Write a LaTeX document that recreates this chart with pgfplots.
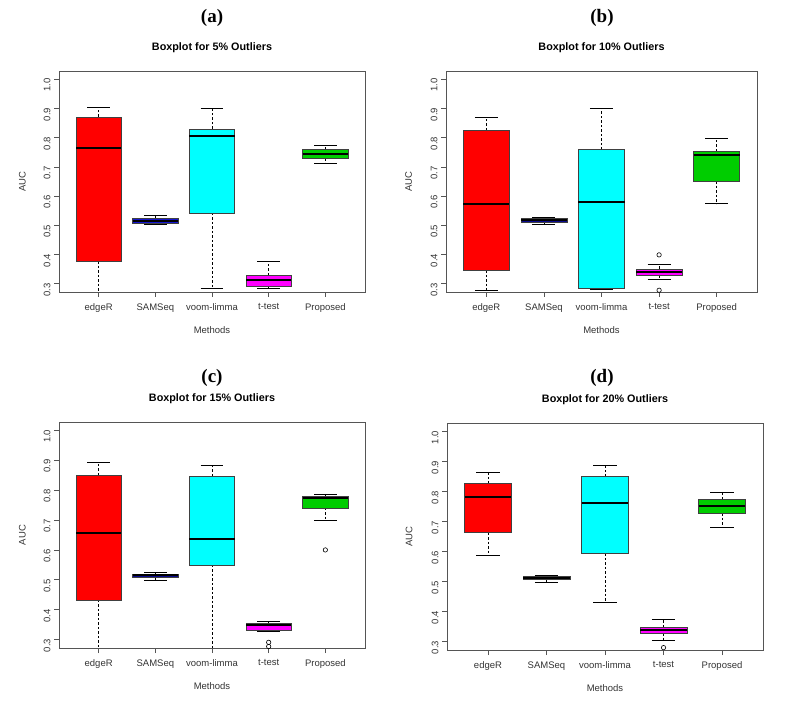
\documentclass[border=0pt]{standalone}
\usepackage{pgfplots}
\pgfplotsset{compat=1.18}
\usepgfplotslibrary{statistics}
\usepackage{fontspec}
\setmainfont{Liberation Sans}
\newfontfamily\serifb{Liberation Serif}
\definecolor{rred}{HTML}{FF0000}
\definecolor{sblueA}{HTML}{1515D0}
\definecolor{snavy}{HTML}{0A0A90}
\definecolor{rcyan}{HTML}{00FFFF}
\definecolor{rmagenta}{HTML}{FF00FF}
\definecolor{rgreen}{HTML}{00CD00}
\definecolor{axgray}{HTML}{555555}
\pgfplotsset{
  myax/.style={
    scale only axis,
    xmin=0.3, xmax=5.7, ymin=0.272, ymax=1.028,
    xtick={1,2,3,4,5},
    xticklabels={edgeR,SAMSeq,voom-limma,t-test,Proposed},
    ytick={0.3,0.4,0.5,0.6,0.7,0.8,0.9,1.0},
    /pgf/number format/assume math mode=true,
    yticklabel style={/pgf/number format/.cd, fixed, fixed zerofill, precision=1, /tikz/.cd, rotate=90, anchor=south, xshift=-6pt, font=\fontsize{9.5}{11}\selectfont, text=black!80},
    xticklabel style={font=\fontsize{9.5}{11}\selectfont, text=black!80, yshift=-3pt},
    tick align=outside, xtick pos=bottom, ytick pos=left,
    major tick length=5pt,
    tick style={draw=axgray, line width=0.7pt},
    axis line style={draw=axgray, line width=0.8pt},
    title style={font=\bfseries\fontsize{10.8}{12}\selectfont, at={(axis description cs:0.5,1)}, anchor=south, yshift=9pt},
    xlabel={Methods}, ylabel={AUC},
    xlabel style={font=\fontsize{9.5}{11}\selectfont, text=black!80, at={(axis description cs:0.5,0)}, anchor=center, yshift=-38pt},
    ylabel style={font=\fontsize{9.5}{11}\selectfont, text=black!80, at={(axis description cs:-0.12,0.5)}, anchor=center},
    boxplot/draw direction=y,
    boxplot/box extend=0.8,
    boxplot/draw/lower whisker/.code={%
      \draw[black, dash pattern=on 2.5pt off 2pt, line width=0.6pt] (boxplot box cs:\pgfplotsboxplotvalue{lower quartile},0.5) -- (boxplot box cs:\pgfplotsboxplotvalue{lower whisker},0.5);
      \draw[black, line width=0.6pt] (boxplot box cs:\pgfplotsboxplotvalue{lower whisker},0.25) -- (boxplot box cs:\pgfplotsboxplotvalue{lower whisker},0.75);
    },
    boxplot/draw/upper whisker/.code={%
      \draw[black, dash pattern=on 2.5pt off 2pt, line width=0.6pt] (boxplot box cs:\pgfplotsboxplotvalue{upper quartile},0.5) -- (boxplot box cs:\pgfplotsboxplotvalue{upper whisker},0.5);
      \draw[black, line width=0.6pt] (boxplot box cs:\pgfplotsboxplotvalue{upper whisker},0.25) -- (boxplot box cs:\pgfplotsboxplotvalue{upper whisker},0.75);
    },
    boxplot/every median/.style={draw=black, line width=2pt},
  }
}
% color, lw, lq, med, uq, uw, pos
\newcommand{\bp}[7]{%
  \addplot[black, line width=0.6pt, boxplot/every box/.style={fill=#1, draw=black!75, line width=0.5pt},
    boxplot prepared={draw position=#7, lower whisker=#2, lower quartile=#3, median=#4, upper quartile=#5, upper whisker=#6}] coordinates {};
}
\newcommand{\bpo}[8]{%
  \addplot[black, line width=0.6pt, mark=o, mark size=2.2pt, mark options={solid, draw=black, fill=none},
    boxplot/every box/.style={fill=#1, draw=black!75, line width=0.5pt},
    boxplot prepared={draw position=#7, lower whisker=#2, lower quartile=#3, median=#4, upper quartile=#5, upper whisker=#6}] table[row sep=\\, y index=0] {#8};
}
\begin{document}
\begin{tikzpicture}
\useasboundingbox (0pt,0pt) rectangle (791pt,712pt);
\node[font=\serifb\bfseries\fontsize{19}{22}\selectfont] at (212pt,694pt) {(a)};
\node[font=\serifb\bfseries\fontsize{19}{22}\selectfont] at (602pt,694pt) {(b)};
\node[font=\serifb\bfseries\fontsize{19}{22}\selectfont] at (212pt,334pt) {(c)};
\node[font=\serifb\bfseries\fontsize{19}{22}\selectfont] at (602pt,334pt) {(d)};
% (a)
\begin{axis}[myax, at={(59pt,420pt)}, anchor=south west, width=306pt, height=221pt, title={Boxplot for 5\% Outliers}]
\bp{rred}{0.25}{0.378}{0.766}{0.871}{0.905}{1}
\bp{sblueA}{0.502}{0.507}{0.516}{0.525}{0.535}{2}
\bp{rcyan}{0.283}{0.543}{0.805}{0.830}{0.900}{3}
\bp{rmagenta}{0.283}{0.290}{0.314}{0.330}{0.378}{4}
\bp{rgreen}{0.713}{0.730}{0.744}{0.761}{0.775}{5}
\end{axis}
% (b)
\begin{axis}[myax, at={(446pt,420pt)}, anchor=south west, width=311pt, height=221pt, title={Boxplot for 10\% Outliers}]
\bp{rred}{0.278}{0.347}{0.572}{0.826}{0.869}{1}
\bp{snavy}{0.502}{0.509}{0.517}{0.524}{0.528}{2}
\bp{rcyan}{0.281}{0.285}{0.580}{0.759}{0.900}{3}
\bpo{rmagenta}{0.317}{0.329}{0.342}{0.351}{0.367}{4}{0.399\\0.278\\}
\bp{rgreen}{0.574}{0.651}{0.741}{0.754}{0.797}{5}
\end{axis}
% (c)
\begin{axis}[myax, at={(59pt,64pt)}, anchor=south west, width=306pt, height=226pt, title={Boxplot for 15\% Outliers}]
\bp{rred}{0.25}{0.433}{0.656}{0.850}{0.892}{1}
\bp{snavy}{0.498}{0.508}{0.515}{0.520}{0.526}{2}
\bp{rcyan}{0.25}{0.550}{0.638}{0.846}{0.883}{3}
\bpo{rmagenta}{0.329}{0.330}{0.348}{0.356}{0.363}{4}{0.291\\0.277\\}
\bpo{rgreen}{0.700}{0.741}{0.773}{0.781}{0.786}{5}{0.600\\}
\end{axis}
% (d)
\begin{axis}[myax, at={(447pt,62pt)}, anchor=south west, width=316pt, height=227pt, title={Boxplot for 20\% Outliers}]
\bp{rred}{0.587}{0.663}{0.783}{0.826}{0.864}{1}
\bp{snavy}{0.498}{0.506}{0.512}{0.517}{0.520}{2}
\bp{rcyan}{0.430}{0.594}{0.760}{0.849}{0.886}{3}
\bpo{rmagenta}{0.304}{0.328}{0.339}{0.347}{0.374}{4}{0.280\\}
\bp{rgreen}{0.679}{0.727}{0.753}{0.773}{0.796}{5}
\end{axis}
\end{tikzpicture}
\end{document}
